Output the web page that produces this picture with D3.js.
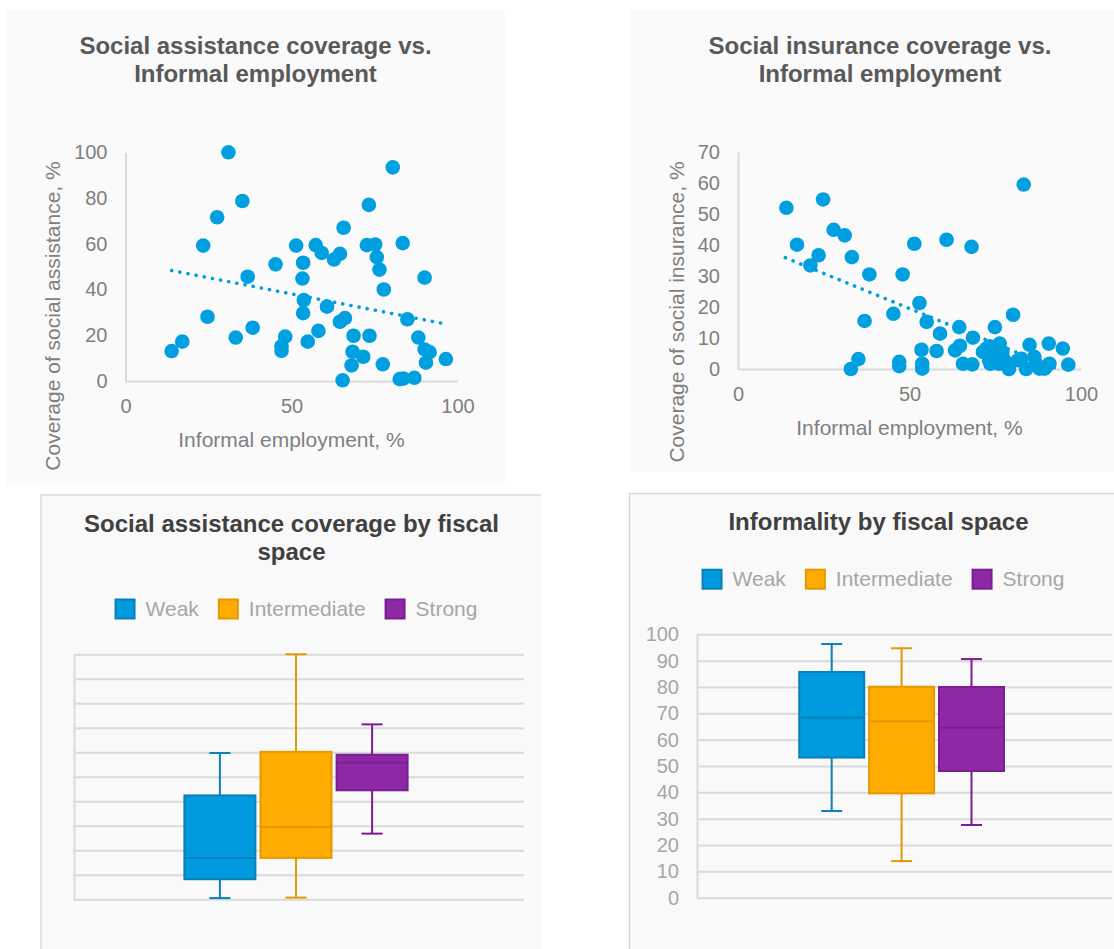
<!DOCTYPE html>
<html><head><meta charset="utf-8">
<script src="https://cdn.jsdelivr.net/npm/d3@7"></script>
<style>
body{margin:0;background:#fff;}
svg{display:block;font-family:"Liberation Sans",Arial,sans-serif;}
</style></head><body>
<svg id="c" width="1114" height="949"></svg>
<script>
// ---------- DATA ----------
const saInformal = [31.0,80.5,35.2,27.6,23.4,73.3,65.7,51.4,57.3,59.1,62.8,64.6,72.7,75.2,83.5,75.7,76.5,77.8,90.1,45.2,53.5,36.8,53.3,53.7,53.5,60.7,24.7,64.6,66.1,84.9,38.3,33.2,58.1,48.1,54.9,47.0,47.0,68.7,73.5,88.2,90.1,91.6,90.5,96.5,68.4,71.6,68.1,77.5,65.4,82.6,83.7,87.0,13.9,17.1];
const saCoverage = [100,93.4,78.7,71.6,59.2,77.0,67.0,59.2,59.4,56.0,53.1,55.6,59.4,59.7,60.3,54.2,48.7,40.0,45.2,51.0,51.7,45.6,44.8,35.4,29.7,32.5,28.1,25.9,27.5,27.0,23.3,19.0,21.9,19.4,17.2,15.2,13.2,19.8,19.8,19.0,13.8,12.6,8.0,9.6,12.8,10.6,6.8,7.3,0.3,0.8,1.1,1.4,13.1,17.2];
const siInformal = [14.1,24.8,17.2,23.5,21.1,27.9,31.1,33.2,38.3,48.0,51.4,60.8,68.1,83.3,52.9,45.3,36.9,55.0,58.9,64.5,68.5,74.9,80.2,53.5,57.9,63.3,64.7,35.1,32.9,47.0,47.0,53.7,53.7,65.6,68.3,71.4,73.4,76.3,77.1,73.6,76.1,79.0,85.0,82.6,84.0,86.4,87.9,90.6,90.8,89.4,94.7,96.3,74.9,72.4,73.2,77.7,81.6,86.9];
const siCoverage = [52.0,54.7,40.1,36.7,33.4,44.9,43.1,36.1,30.5,30.5,40.4,41.7,39.4,59.5,21.3,17.8,15.5,15.2,11.4,13.5,10.1,13.5,17.5,6.2,5.8,6.0,7.5,3.2,0.0,2.3,0.9,1.7,0.1,1.7,1.5,5.5,7.3,8.2,5.5,1.7,1.7,0.0,7.8,3.3,0.0,3.9,0.1,8.2,1.7,0.1,6.6,1.4,5.5,6.6,2.8,2.8,2.8,1.7];
const saTrend = [[13.9,48.3],[96.5,24.9]];
const siTrend = [[13.8,35.9],[96.4,-1.5]];
const scatterXTicks = [0,50,100];
const saYTicks = [0,20,40,60,80,100];
const siYTicks = [0,10,20,30,40,50,60,70];

const fiscalSeries = ["Weak","Intermediate","Strong"];
// five-number summaries per series (Weak, Intermediate, Strong)
const saBoxMin    = [0.5, 0.7, 26.8];
const saBoxQ1     = [8.2, 16.9, 44.5];
const saBoxMedian = [16.9, 29.5, 55.7];
const saBoxQ3     = [42.4, 60.2, 59.0];
const saBoxMax    = [59.7, 100, 71.4];
const infBoxMin    = [32.9, 13.9, 27.6];
const infBoxQ1     = [53.2, 39.6, 48.1];
const infBoxMedian = [68.3, 67.0, 64.5];
const infBoxQ3     = [85.7, 80.1, 80.0];
const infBoxMax    = [96.3, 94.7, 90.6];
const boxYTicks = [0,10,20,30,40,50,60,70,80,90,100];

// ---------- STYLE ----------
const dotColor = "#009FDF";
const fillColors = ["#009ADE","#FFAB00","#8E29A6"];
const strokeColors = ["#0A80B8","#E39A00","#7A1F92"];
const svg = d3.select("#c");

function drawScatter(o){
  const g = svg.append("g");
  g.append("rect").attr("x",o.panel[0]).attr("y",o.panel[1]).attr("width",o.panel[2]).attr("height",o.panel[3]).attr("fill","#fafafa");
  o.title.forEach((t,i)=>g.append("text").attr("x",o.titleX).attr("y",o.titleY[i]).attr("text-anchor","middle")
    .attr("font-size",24).attr("font-weight","bold").attr("fill","#595959").text(t));
  const x = d3.scaleLinear().domain([0,100]).range(o.xr);
  const y = d3.scaleLinear().domain(o.yd).range(o.yr);
  const xa = g.append("g").attr("transform",`translate(0,${o.yr[0]})`)
    .call(d3.axisBottom(x).tickValues(scatterXTicks).tickSize(0).tickPadding(18));
  const ya = g.append("g").attr("transform",`translate(${o.xr[0]},0)`)
    .call(d3.axisLeft(y).tickValues(o.yTicks).tickSize(0).tickPadding(18));
  [xa,ya].forEach(a=>{
    a.select(".domain").attr("stroke","#d9d9d9").attr("stroke-width",2);
    a.selectAll("text").attr("font-size",20).attr("fill","#7f7f7f").attr("font-family","Liberation Sans, Arial, sans-serif");
  });
  g.append("text").attr("x",o.xTitle[0]).attr("y",o.xTitle[1]).attr("text-anchor","middle").attr("font-size",21).attr("fill","#7f7f7f").text("Informal employment, %");
  g.append("text").attr("transform",`translate(${o.yTitle[0]},${o.yTitle[1]}) rotate(-90)`).attr("text-anchor","middle").attr("font-size",21).attr("fill","#7f7f7f").text(o.yLabel);
  const clipId = "clip"+o.id;
  g.append("clipPath").attr("id",clipId).append("rect").attr("x",o.xr[0]).attr("y",o.yr[1]).attr("width",o.xr[1]-o.xr[0]).attr("height",o.yr[0]-o.yr[1]);
  g.append("path").attr("clip-path",`url(#${clipId})`).attr("d",d3.line().x(d=>x(d[0])).y(d=>y(d[1]))(o.trend))
    .attr("stroke",dotColor).attr("stroke-width",3.6).attr("stroke-linecap","round").attr("stroke-dasharray","0.1 8.2").attr("fill","none");
  g.selectAll("circle.pt").data(o.xs.map((v,i)=>[v,o.ys[i]])).join("circle").attr("class","pt")
    .attr("cx",d=>x(d[0])).attr("cy",d=>y(d[1])).attr("r",7.3).attr("fill",dotColor);
}

drawScatter({id:1,panel:[6,10,499,475],title:["Social assistance coverage vs.","Informal employment"],titleX:255.5,titleY:[54,81.7],
  xr:[125.5,457.5],yr:[381,152.3],yd:[0,100],yTicks:saYTicks,xTitle:[291.5,446.7],yTitle:[60,316],
  yLabel:"Coverage of social assistance, %",trend:saTrend,xs:saInformal,ys:saCoverage});
drawScatter({id:2,panel:[630,10,484,462],title:["Social insurance coverage vs.","Informal employment"],titleX:880,titleY:[54,81.7],
  xr:[738,1081],yr:[369,152],yd:[0,70],yTicks:siYTicks,xTitle:[909.5,435],yTitle:[684,312],
  yLabel:"Coverage of social insurance, %",trend:siTrend,xs:siInformal,ys:siCoverage});

function drawBox(o){
  const g = svg.append("g");
  g.append("rect").attr("x",o.panel[0]).attr("y",o.panel[1]).attr("width",o.panel[2]).attr("height",o.panel[3]).attr("fill","#f9f9f9");
  g.append("path").attr("d",`M${o.panel[0]},${o.panel[1]+o.panel[3]}V${o.panel[1]}H${o.panel[0]+o.panel[2]}`).attr("stroke","#d9d9d9").attr("stroke-width",1.5).attr("fill","none");
  o.title.forEach((t,i)=>g.append("text").attr("x",o.titleX).attr("y",o.titleY[i]).attr("text-anchor","middle")
    .attr("font-size",24).attr("font-weight","bold").attr("fill","#404040").text(t));
  // legend
  const lg = g.append("g");
  let cx = 0;
  fiscalSeries.forEach((s,i)=>{
    lg.append("rect").attr("x",cx+1).attr("y",o.legendY-9).attr("width",19).attr("height",19).attr("fill",fillColors[i]).attr("stroke",strokeColors[i]).attr("stroke-width",2);
    const t = lg.append("text").attr("x",cx+31).attr("y",o.legendY+7.5).attr("font-size",21).attr("fill","#a6a6a6").text(s);
    cx += 31 + t.node().getComputedTextLength() + 19;
  });
  const lw = cx - 19;
  lg.attr("transform",`translate(${o.legendCX - lw/2},0)`);
  const y = d3.scaleLinear().domain([0,100]).range([o.yBot,o.yTop]);
  const ya = g.append("g").attr("transform",`translate(${o.x0},0)`)
    .call(d3.axisLeft(y).tickValues(boxYTicks).tickSize(-(o.x1-o.x0)).tickSizeOuter(0).tickPadding(18).tickFormat(o.labels?d3.format("d"):()=>""));
  ya.select(".domain").attr("stroke","#d9d9d9").attr("stroke-width",2);
  ya.selectAll(".tick line").attr("stroke","#d9d9d9").attr("stroke-width",2);
  ya.selectAll("text").attr("font-size",20).attr("fill","#a6a6a6").attr("font-family","Liberation Sans, Arial, sans-serif");
  const xb = d3.scaleBand().domain(fiscalSeries).range([o.gc - o.gw/2, o.gc + o.gw/2]).paddingInner(o.pad);
  fiscalSeries.forEach((s,i)=>{
    const bx = xb(s), bw = xb.bandwidth(), mx = bx + bw/2;
    const sc = strokeColors[i];
    g.append("line").attr("x1",mx).attr("x2",mx).attr("y1",y(o.max[i])).attr("y2",y(o.q3[i])).attr("stroke",sc).attr("stroke-width",2);
    g.append("line").attr("x1",mx).attr("x2",mx).attr("y1",y(o.q1[i])).attr("y2",y(o.min[i])).attr("stroke",sc).attr("stroke-width",2);
    [o.max[i],o.min[i]].forEach(v=>g.append("line").attr("x1",mx-10.5).attr("x2",mx+10.5).attr("y1",y(v)).attr("y2",y(v)).attr("stroke",sc).attr("stroke-width",2));
    g.append("rect").attr("x",bx).attr("width",bw).attr("y",y(o.q3[i])).attr("height",y(o.q1[i])-y(o.q3[i]))
      .attr("fill",fillColors[i]).attr("stroke",sc).attr("stroke-width",2);
    g.append("line").attr("x1",bx).attr("x2",bx+bw).attr("y1",y(o.med[i])).attr("y2",y(o.med[i])).attr("stroke",sc).attr("stroke-width",2);
  });
}

drawBox({panel:[41,495,500,460],title:["Social assistance coverage by fiscal","space"],titleX:291.5,titleY:[532.3,560],
  legendY:608.5,legendCX:296,x0:74,x1:524,yTop:654.3,yBot:899.3,labels:false,gc:296,gw:223.2,pad:0.067,
  min:saBoxMin,q1:saBoxQ1,med:saBoxMedian,q3:saBoxQ3,max:saBoxMax});
drawBox({panel:[629.5,493.5,490,460],title:["Informality by fiscal space"],titleX:878.5,titleY:[530],
  legendY:578.7,legendCX:883,x0:697,x1:1112,yTop:634.3,yBot:897.7,labels:true,gc:901.6,gw:204.8,pad:0.07,
  min:infBoxMin,q1:infBoxQ1,med:infBoxMedian,q3:infBoxQ3,max:infBoxMax});
</script>
</body></html>
